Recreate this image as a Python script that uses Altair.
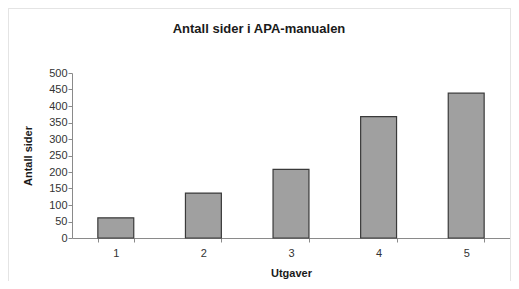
import altair as alt
import pandas as pd

# Data
utgaver = ["1", "2", "3", "4", "5"]
antall_sider = [61, 136, 208, 368, 439]
y_ticks = [0, 50, 100, 150, 200, 250, 300, 350, 400, 450, 500]

df = pd.DataFrame({"Utgaver": utgaver, "Antall sider": antall_sider})

FONT = "Liberation Sans"

bars = alt.Chart(df).mark_bar(
    color="#a0a0a0", stroke="#3a3a3a", strokeWidth=1.2
).encode(
    x=alt.X(
        "Utgaver:O",
        sort=utgaver,
        scale=alt.Scale(paddingInner=0.59, paddingOuter=0.295),
        axis=alt.Axis(
            title="Utgaver", labelAngle=0, tickBand="extent", tickSize=4,
            labelPadding=5, titlePadding=9, domainColor="#8a8a8a",
            tickColor="#8a8a8a",
        ),
    ),
    y=alt.Y(
        "Antall sider:Q",
        scale=alt.Scale(domain=[0, 500], nice=False),
        axis=alt.Axis(
            title="Antall sider", values=y_ticks, grid=False, tickSize=4,
            labelPadding=1, titlePadding=15, domainColor="#8a8a8a",
            tickColor="#8a8a8a",
        ),
    ),
)

frame_color = "#e4e4e4"
frame_top = alt.Chart(df).mark_rule(color=frame_color, strokeWidth=1).encode(
    x=alt.value(-63.5), x2=alt.value(438.5), y=alt.value(-64.5)
)
frame_left = alt.Chart(df).mark_rule(color=frame_color, strokeWidth=1).encode(
    x=alt.value(-63.5), y=alt.value(-64.5), y2=alt.value(208)
)
frame_right = alt.Chart(df).mark_rule(color=frame_color, strokeWidth=1).encode(
    x=alt.value(438.5), y=alt.value(-64.5), y2=alt.value(208)
)

chart = alt.layer(frame_top, frame_left, frame_right, bars).properties(
    width=438,
    height=165,
    autosize=alt.AutoSizeParams(type="none"),
    padding={"left": 64, "top": 65, "right": 1, "bottom": 43},
    title=alt.TitleParams(
        "Antall sider i APA-manualen", fontSize=13, font=FONT,
        fontWeight="bold", color="#1a1a1a", anchor="middle", dx=-32,
        baseline="alphabetic", offset=-38,
    ),
).configure_view(stroke=None).configure_axis(
    labelFont=FONT, titleFont=FONT, labelFontSize=11, titleFontSize=11,
    labelColor="#333333", titleColor="#1a1a1a", titleFontWeight="bold",
)

chart.save("out.html", embed_options={"renderer": "svg", "actions": False})
